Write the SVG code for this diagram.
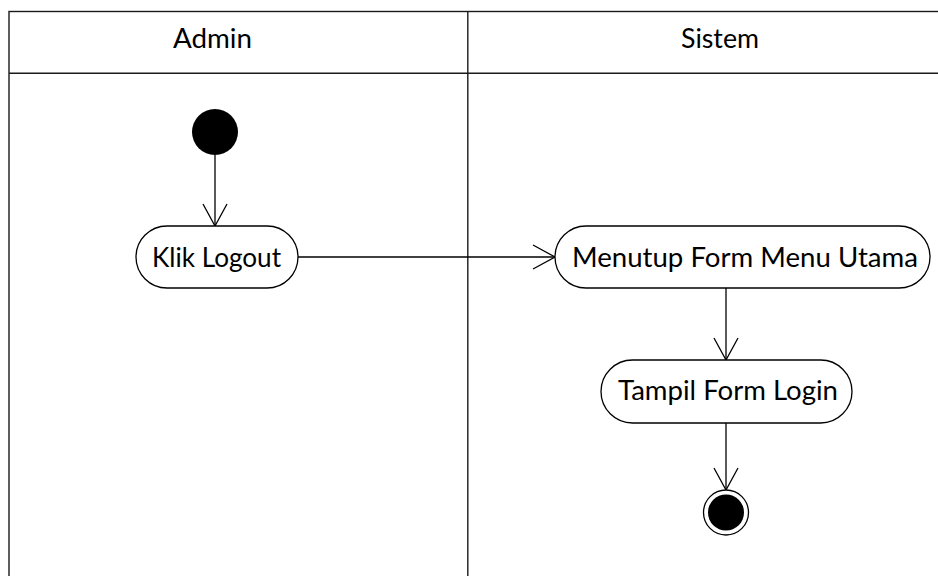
<svg xmlns="http://www.w3.org/2000/svg" width="938" height="576" viewBox="0 0 938 576">
  <defs>
    <marker id="open-arrow" viewBox="0 0 24 26" refX="23" refY="13" markerWidth="24" markerHeight="26" markerUnits="userSpaceOnUse" orient="auto">
      <path d="M1,1 L23,13 L1,25" fill="none" stroke="#000" stroke-width="1.3"/>
    </marker>
  </defs>
  <style>
    .frame { fill: none; stroke: #1a1a1a; stroke-width: 1.4; }
    .action { fill: #fff; stroke: #000; stroke-width: 1.3; }
    .label { font-family: Lato, "Open Sans", "Liberation Sans", sans-serif; font-size: 26px; fill: #000; }
    .flow { fill: none; stroke: #000; stroke-width: 1.3; marker-end: url(#open-arrow); }
  </style>
  <rect width="938" height="576" fill="#fff"/>

  <!-- swimlane frame -->
  <g id="lanes">
    <rect class="frame" x="9" y="11.5" width="1000" height="620"/>
    <line class="frame" x1="9" y1="73.3" x2="938" y2="73.3"/>
    <line class="frame" x1="467.8" y1="11.5" x2="467.8" y2="576"/>
    <text class="label" x="173" y="48" textLength="79" lengthAdjust="spacingAndGlyphs">Admin</text>
    <text class="label" x="681" y="48" textLength="78" lengthAdjust="spacingAndGlyphs">Sistem</text>
  </g>

  <!-- connectors -->
  <g id="connectors">
    <line class="flow" x1="215" y1="155" x2="215" y2="226"/>
    <line class="flow" x1="298" y1="257" x2="555" y2="257"/>
    <line class="flow" x1="726" y1="288" x2="726" y2="360"/>
    <line class="flow" x1="726" y1="423" x2="726" y2="490"/>
  </g>

  <g id="start">
    <circle cx="215" cy="132" r="23" fill="#000"/>
  </g>

  <g id="klik-logout">
    <rect class="action" x="136" y="226" width="162" height="62" rx="31" ry="31"/>
    <text class="label" x="152" y="267" textLength="129" lengthAdjust="spacingAndGlyphs">Klik Logout</text>
  </g>

  <g id="menutup-form">
    <rect class="action" x="555" y="226" width="375" height="62" rx="31" ry="31"/>
    <text class="label" x="572" y="267" textLength="346" lengthAdjust="spacingAndGlyphs">Menutup Form Menu Utama</text>
  </g>

  <g id="tampil-login">
    <rect class="action" x="601" y="360" width="251" height="63" rx="31.5" ry="31.5"/>
    <text class="label" x="618" y="400" textLength="220" lengthAdjust="spacingAndGlyphs">Tampil Form Login</text>
  </g>

  <g id="end">
    <circle cx="726" cy="512.5" r="22.5" fill="#fff" stroke="#000" stroke-width="1.3"/>
    <circle cx="726" cy="512.5" r="18" fill="#000"/>
  </g>
</svg>
